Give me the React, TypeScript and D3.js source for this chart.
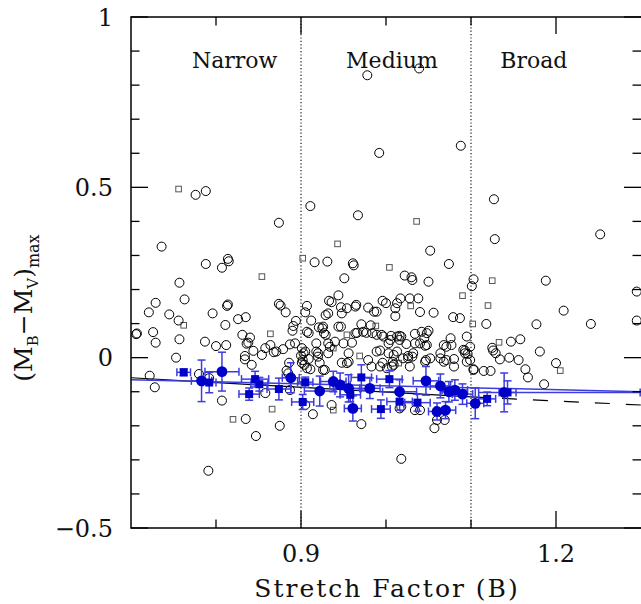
import React from 'react';
import * as d3 from 'd3';

// ---------- data ----------
const xMajorTicks = [0.9, 1.2];
const xMinorTicks = [0.8, 1.0, 1.1];
const yMajorTicks = [-0.5, 0, 0.5, 1];
const yMinorTicks = [-0.4, -0.3, -0.2, -0.1, 0.1, 0.2, 0.3, 0.4, 0.6, 0.7, 0.8, 0.9];
const xTickLabels = ['0.9', '1.2'];
const yTickLabels = ['\u22120.5', '0', '0.5', '1'];
const boundaries = [0.9, 1.1];
const regionNames = ['Narrow', 'Medium', 'Broad'];
const regionCentres = [0.822, 1.007, 1.174];
const regionLabelY = 0.85;

const openCircles: [number, number][] = [
  [0.776,0.478],[0.788,0.489],[0.736,0.326],[0.788,0.275],[0.814,0.290],[0.815,0.283],[0.807,0.264],[0.757,0.220],[0.763,0.171],[0.729,0.161],[0.813,0.152],[0.814,0.156],[0.874,0.396],[0.874,0.158],[0.876,0.153],[0.882,0.133],[0.721,0.133],[0.745,0.127],[0.796,0.130],[0.756,0.109],[0.826,0.113],[0.835,0.119],[0.811,0.096],[0.894,0.108],[0.891,0.093],[0.890,0.079],[0.706,0.069],[0.707,0.071],[0.726,0.075],[0.729,0.044],[0.757,0.054],[0.787,0.047],[0.800,0.034],[0.812,0.037],[0.831,0.067],[0.840,0.059],[0.838,0.044],[0.836,0.041],[0.844,0.020],[0.834,0.005],[0.834,-0.005],[0.842,-0.021],[0.854,0.008],[0.858,0.028],[0.864,0.037],[0.868,0.016],[0.871,0.018],[0.879,0.025],[0.887,0.039],[0.893,0.042],[0.886,-0.015],[0.883,-0.038],[0.885,-0.046],[0.753,0.000],[0.722,-0.053],[0.780,-0.048],[0.728,-0.087],[0.792,-0.060],[0.807,-0.126],[0.835,-0.180],[0.875,-0.200],[0.847,-0.230],[0.858,-0.104],[0.887,-0.095],[0.791,-0.332],
  [0.978,0.829],[1.039,0.849],[0.992,0.601],[1.088,0.622],[0.911,0.445],[0.967,0.418],[1.052,0.314],[0.916,0.280],[0.931,0.282],[0.961,0.277],[0.962,0.271],[1.074,0.275],[0.951,0.233],[1.022,0.241],[1.030,0.236],[1.031,0.228],[1.050,0.223],[1.101,0.210],[0.944,0.183],[0.933,0.167],[0.936,0.163],[0.907,0.152],[0.905,0.133],[0.912,0.109],[0.947,0.148],[0.954,0.145],[0.964,0.150],[0.965,0.155],[0.948,0.130],[0.929,0.125],[0.932,0.130],[0.979,0.147],[0.986,0.135],[0.989,0.135],[0.996,0.167],[1.000,0.160],[1.013,0.160],[1.011,0.145],[1.017,0.174],[1.028,0.174],[1.038,0.174],[1.011,0.122],[1.040,0.134],[1.056,0.132],[1.079,0.119],[1.087,0.116],[0.907,0.076],[0.909,0.072],[0.921,0.089],[0.926,0.091],[0.925,0.086],[0.927,0.072],[0.929,0.067],[0.944,0.091],[0.947,0.091],[0.971,0.098],[0.982,0.095],[0.964,0.072],[0.966,0.073],[0.973,0.076],[0.977,0.073],[0.984,0.072],[0.989,0.067],[0.995,0.067],[0.997,0.062],[1.006,0.064],[1.013,0.062],[1.016,0.064],[1.018,0.062],[1.016,0.052],[1.034,0.070],[1.042,0.076],[1.048,0.072],[1.050,0.079],[1.045,0.057],[1.048,0.037],[1.076,0.057],[1.077,0.037],[1.095,0.062],[1.099,0.032],[0.901,0.028],[0.905,0.018],[0.900,0.006],[0.903,0.013],[0.902,-0.007],[0.901,-0.015],[0.904,-0.021],[0.909,-0.004],[0.911,-0.034],[0.918,0.042],[0.918,0.018],[0.920,0.003],[0.920,0.013],[0.932,0.042],[0.934,0.032],[0.932,0.013],[0.950,0.042],[0.960,0.044],[0.940,0.047],[0.956,0.013],[0.989,0.018],[0.993,0.021],[1.003,0.042],[1.005,0.052],[1.024,0.040],[1.034,0.042],[1.040,0.042],[1.046,0.035],[1.068,0.037],[1.071,0.032],[1.003,0.013],[1.009,0.008],[1.013,0.018],[1.026,0.005],[1.032,0.013],[1.052,-0.002],[1.064,0.013],[1.064,-0.002],[1.080,-0.004],[1.091,0.023],[1.093,0.013],[1.099,-0.007],[0.922,-0.015],[0.928,-0.036],[0.948,-0.015],[0.956,-0.012],[0.979,-0.007],[0.983,-0.026],[0.993,-0.026],[0.996,-0.015],[1.008,-0.012],[1.009,-0.021],[1.020,-0.002],[1.026,-0.002],[1.028,-0.026],[1.031,0.003],[1.046,-0.012],[1.047,-0.007],[1.068,-0.012],[1.071,-0.007],[1.080,-0.026],[1.095,-0.012],[1.103,-0.036],[0.954,-0.016],[1.001,-0.031],[1.007,-0.026],[0.907,-0.031],[0.926,-0.036],[0.905,-0.139],[0.914,-0.166],[0.936,-0.139],[0.971,-0.195],[1.016,-0.149],[1.018,-0.144],[1.034,-0.154],[1.040,-0.154],[1.060,-0.183],[1.069,-0.183],[1.057,-0.207],[1.018,-0.297],
  [1.127,0.465],[1.252,0.362],[1.128,0.348],[1.103,0.230],[1.188,0.226],[1.118,0.099],[1.177,0.098],[1.209,0.138],[1.241,0.099],[1.295,0.194],[1.295,0.109],[1.093,0.021],[1.096,0.011],[1.125,0.029],[1.126,0.021],[1.129,0.013],[1.147,0.047],[1.158,0.054],[1.181,0.018],[1.134,-0.005],[1.145,0.000],[1.156,-0.007],[1.103,-0.034],[1.115,-0.039],[1.123,-0.039],[1.164,-0.034],[1.200,-0.016],[1.167,-0.058],[1.186,-0.078],
];

const openSquares: [number, number][] = [
  [0.756,0.495],[0.902,0.292],[0.854,0.238],[0.762,0.095],[0.864,0.070],[0.820,-0.181],[0.866,-0.151],[1.036,0.400],[0.943,0.334],[1.004,0.265],[1.090,0.182],[1.029,0.152],[0.988,0.093],[0.954,0.067],[0.969,0.005],[1.015,-0.016],[0.938,-0.154],[1.125,0.226],[1.120,0.153],[1.102,0.099],[1.133,0.045],[1.205,-0.038],[0.938,0.028],
];

// x, y, xerr low, xerr high, yerr
const blueCircles: [number, number, number, number, number][] = [
  [0.783,-0.068,0.012,0.012,0.061],[0.807,-0.041,0.020,0.020,0.057],[0.888,-0.059,0.010,0.010,0.044],[0.922,-0.098,0.018,0.018,0.044],[0.938,-0.070,0.015,0.015,0.030],[0.946,-0.080,0.012,0.012,0.035],[0.956,-0.090,0.015,0.015,0.040],[0.961,-0.149,0.010,0.010,0.037],[0.981,-0.090,0.012,0.012,0.030],[1.016,-0.100,0.020,0.020,0.035],[1.047,-0.068,0.015,0.015,0.042],[1.064,-0.083,0.012,0.012,0.035],[1.074,-0.100,0.010,0.010,0.030],[1.081,-0.095,0.015,0.015,0.030],[1.090,-0.107,0.012,0.012,0.030],[1.060,-0.158,0.010,0.010,0.025],[1.070,-0.154,0.012,0.012,0.025],[1.105,-0.134,0.010,0.010,0.045],[1.139,-0.102,0.030,0.160,0.057],
];

// x, y, xerr, yerr
const blueSquares: [number, number, number, number][] = [
  [0.762,-0.043,0.008,0.010],[0.792,-0.073,0.008,0.030],[0.846,-0.063,0.016,0.023],[0.851,-0.078,0.010,0.020],[0.839,-0.107,0.012,0.018],[0.874,-0.092,0.014,0.032],[0.905,-0.072,0.009,0.015],[0.902,-0.130,0.013,0.022],[0.958,-0.109,0.012,0.020],[0.971,-0.058,0.012,0.037],[0.994,-0.151,0.011,0.027],[1.004,-0.063,0.015,0.025],[1.016,-0.129,0.015,0.025],[1.037,-0.132,0.015,0.025],[1.119,-0.121,0.010,0.020],[1.143,-0.102,0.010,0.034],
];

const blackFitX = [0.7, 1.1, 1.3];
const blackFitY = [-0.059, -0.115, -0.139];
const blueFitX = [0.7, 1.3];
const blueFitY = [-0.065, -0.100];

// ---------- layout ----------
const W = 641, H = 604;
const M = { left: 131, right: 641, top: 17, bottom: 528 };
const FONT = '"DejaVu Serif", "Liberation Serif", serif';
const BLUE = '#0000c8';
const BLUE_BAR = '#3c3ce0';

export default function App() {
  const x = d3.scaleLinear().domain([0.7, 1.3]).range([M.left, M.right]);
  const y = d3.scaleLinear().domain([-0.5, 1]).range([M.bottom, M.top]);
  const line = d3.line<[number, number]>().x(d => x(d[0])).y(d => y(d[1]));

  const blackSolid: [number, number][] = [[blackFitX[0], blackFitY[0]], [blackFitX[1], blackFitY[1]]];
  const blackDashed: [number, number][] = [[blackFitX[1], blackFitY[1]], [blackFitX[2], blackFitY[2]]];
  const blueFit: [number, number][] = blueFitX.map((v, i) => [v, blueFitY[i]]);

  const majL = 17, minL = 8.5, cap = 4;

  return (
    <svg width={W} height={H} style={{ position: 'absolute', left: 0, top: 0, background: '#fff' }}
      fontFamily={FONT}>
      <defs>
        <clipPath id="plot"><rect x={M.left} y={M.top} width={M.right - M.left} height={M.bottom - M.top} /></clipPath>
      </defs>
      {boundaries.map((b, i) => (
        <line key={'b' + i} x1={x(b)} x2={x(b)} y1={M.top} y2={M.bottom} stroke="#000" strokeWidth={1.1} strokeDasharray="1.2,2.2" />
      ))}
      {regionNames.map((n, i) => (
        <text key={n} x={x(regionCentres[i])} y={y(regionLabelY)} textAnchor="middle" fontSize={22} fill="#111">{n}</text>
      ))}
      <g clipPath="url(#plot)">
        {openSquares.map((d, i) => (
          <rect key={'s' + i} x={x(d[0]) - 2.8} y={y(d[1]) - 2.8} width={5.6} height={5.6} fill="none" stroke="#555" strokeWidth={1} />
        ))}
        {openCircles.map((d, i) => (
          <circle key={'c' + i} cx={x(d[0])} cy={y(d[1])} r={4.5} fill="none" stroke="#000" strokeWidth={1} />
        ))}
        <path d={line(blackSolid) || ''} fill="none" stroke="#000" strokeWidth={1.2} />
        <path d={line(blackDashed) || ''} fill="none" stroke="#000" strokeWidth={1.2} strokeDasharray="15,16" />
        <path d={line(blueFit) || ''} fill="none" stroke={BLUE_BAR} strokeWidth={1.5} />
        {blueSquares.map((d, i) => {
          const cx = x(d[0]), cy = y(d[1]);
          const xl = x(d[0] - d[2]), xr = x(d[0] + d[2]);
          const yt = y(d[1] + d[3]), yb = y(d[1] - d[3]);
          return (
            <g key={'bs' + i} stroke={BLUE_BAR} strokeWidth={1.5}>
              <line x1={xl} x2={xr} y1={cy} y2={cy} />
              <line x1={xl} x2={xl} y1={cy - cap} y2={cy + cap} />
              <line x1={xr} x2={xr} y1={cy - cap} y2={cy + cap} />
              <line x1={cx} x2={cx} y1={yt} y2={yb} />
              <line x1={cx - cap} x2={cx + cap} y1={yt} y2={yt} />
              <line x1={cx - cap} x2={cx + cap} y1={yb} y2={yb} />
            </g>
          );
        })}
        {blueCircles.map((d, i) => {
          const cx = x(d[0]), cy = y(d[1]);
          const xl = x(d[0] - d[2]), xr = x(d[0] + d[3]);
          const yt = y(d[1] + d[4]), yb = y(d[1] - d[4]);
          return (
            <g key={'bc' + i} stroke={BLUE_BAR} strokeWidth={1.5}>
              <line x1={xl} x2={xr} y1={cy} y2={cy} />
              <line x1={xl} x2={xl} y1={cy - cap} y2={cy + cap} />
              <line x1={xr} x2={xr} y1={cy - cap} y2={cy + cap} />
              <line x1={cx} x2={cx} y1={yt} y2={yb} />
              <line x1={cx - cap} x2={cx + cap} y1={yt} y2={yt} />
              <line x1={cx - cap} x2={cx + cap} y1={yb} y2={yb} />
            </g>
          );
        })}
        {blueSquares.map((d, i) => (
          <rect key={'bsm' + i} x={x(d[0]) - 4} y={y(d[1]) - 4} width={8} height={8} fill={BLUE} />
        ))}
        {blueCircles.map((d, i) => (
          <circle key={'bcm' + i} cx={x(d[0])} cy={y(d[1])} r={5.4} fill={BLUE} />
        ))}
      </g>
      <rect x={M.left} y={M.top} width={M.right - M.left + 1} height={M.bottom - M.top} fill="none" stroke="#000" strokeWidth={1.5} />
      {xMajorTicks.map(t => (
        <g key={'xm' + t} stroke="#000" strokeWidth={1.3}>
          <line x1={x(t)} x2={x(t)} y1={M.bottom} y2={M.bottom - majL} />
          <line x1={x(t)} x2={x(t)} y1={M.top} y2={M.top + majL} />
        </g>
      ))}
      {xMinorTicks.map(t => (
        <g key={'xn' + t} stroke="#000" strokeWidth={1.3}>
          <line x1={x(t)} x2={x(t)} y1={M.bottom} y2={M.bottom - minL} />
          <line x1={x(t)} x2={x(t)} y1={M.top} y2={M.top + minL} />
        </g>
      ))}
      {yMajorTicks.map(t => (
        <g key={'ym' + t} stroke="#000" strokeWidth={1.3}>
          <line x1={M.left} x2={M.left + majL} y1={y(t)} y2={y(t)} />
          <line x1={M.right} x2={M.right - majL} y1={y(t)} y2={y(t)} />
        </g>
      ))}
      {yMinorTicks.map(t => (
        <g key={'yn' + t} stroke="#000" strokeWidth={1.3}>
          <line x1={M.left} x2={M.left + minL} y1={y(t)} y2={y(t)} />
          <line x1={M.right} x2={M.right - minL} y1={y(t)} y2={y(t)} />
        </g>
      ))}
      {xMajorTicks.map((t, i) => (
        <text key={'xl' + t} x={x(t)} y={562} textAnchor="middle" fontSize={24} fill="#111">{xTickLabels[i]}</text>
      ))}
      {yMajorTicks.map((t, i) => (
        <text key={'yl' + t} x={113} y={y(t) + 8.5} textAnchor="end" fontSize={24} fill="#111">{yTickLabels[i]}</text>
      ))}
      <text x={387} y={597} textAnchor="middle" fontSize={25} letterSpacing={2} fill="#111">Stretch Factor (B)</text>
      <text transform="translate(32,308) rotate(-90)" textAnchor="middle" fontSize={25} fill="#111">
        (M<tspan fontSize={15} dy={6}>B</tspan><tspan dy={-6}>{'\u2212'}M</tspan><tspan fontSize={15} dy={6}>V</tspan><tspan dy={-6}>)</tspan><tspan fontSize={16} dy={7}>max</tspan>
      </text>
    </svg>
  );
}
